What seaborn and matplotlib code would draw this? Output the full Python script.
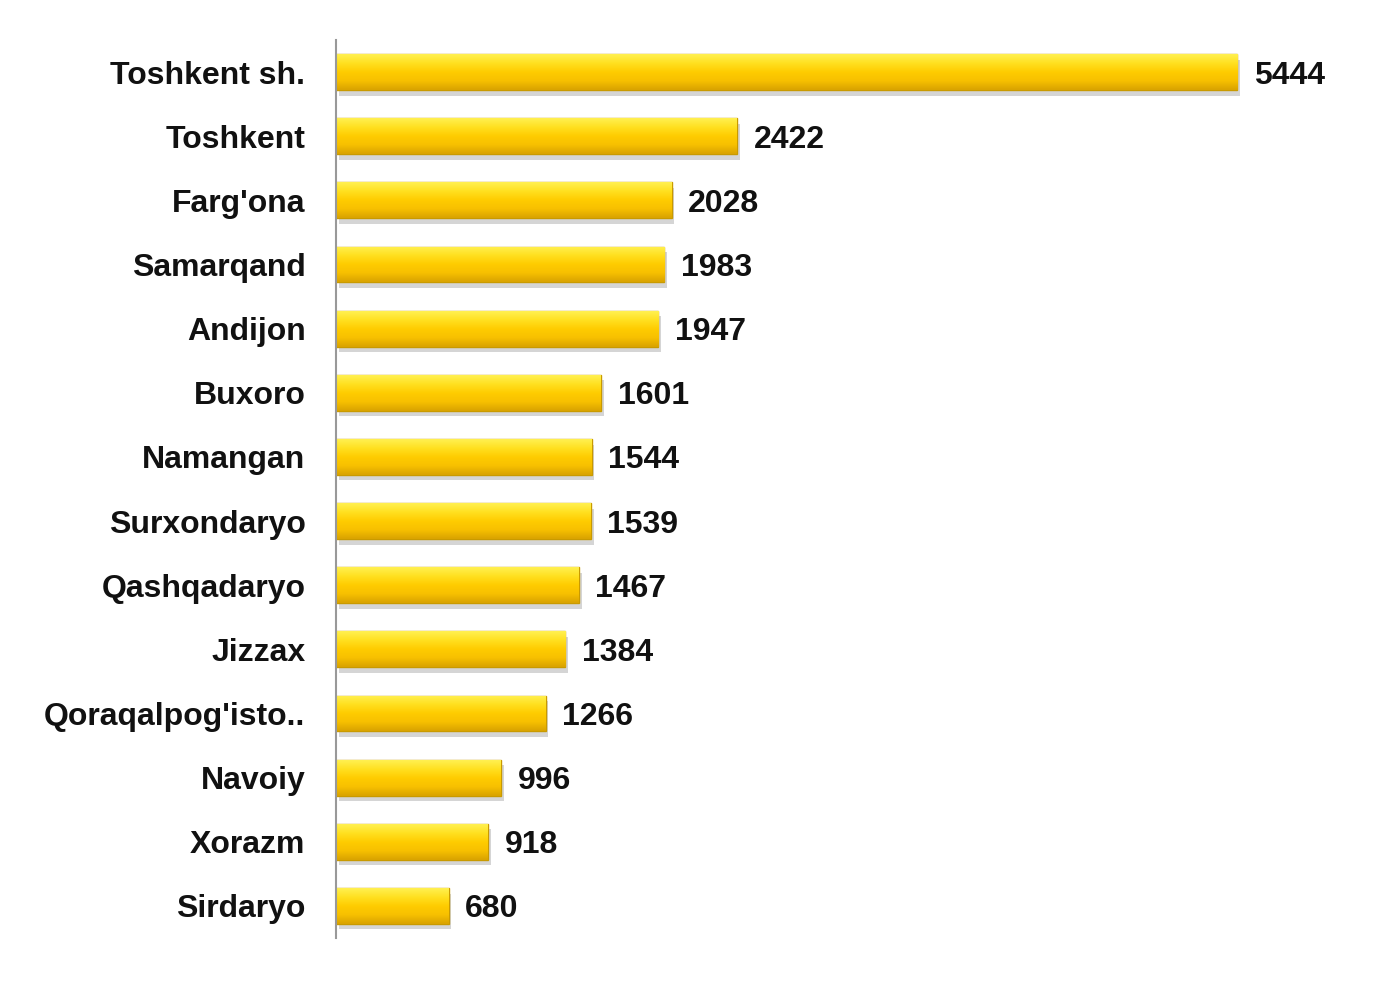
import numpy as np
import pandas as pd
import matplotlib
matplotlib.use("Agg")
import matplotlib.pyplot as plt
import matplotlib.patheffects as pe
from matplotlib.colors import LinearSegmentedColormap
import seaborn as sns

regions = ["Toshkent sh.", "Toshkent", "Farg'ona", "Samarqand", "Andijon", "Buxoro",
           "Namangan", "Surxondaryo", "Qashqadaryo", "Jizzax", "Qoraqalpog'isto..",
           "Navoiy", "Xorazm", "Sirdaryo"]
values = [5444, 2422, 2028, 1983, 1947, 1601, 1544, 1539, 1467, 1384, 1266, 996, 918, 680]

df = pd.DataFrame({"region": regions, "value": values})

sns.set_theme(style="white")
plt.rcParams['font.family'] = ['Liberation Sans', 'DejaVu Sans']

fig = plt.figure(figsize=(13.75, 10.07), dpi=100)
ax = fig.add_axes([0.2444, 0.0685, 0.7222, 0.8918])

sns.barplot(data=df, x="value", y="region", orient="h", color="#FFCC00",
            width=0.56, edgecolor="#C99A00", linewidth=1.0, ax=ax, saturation=1)

cmap = LinearSegmentedColormap.from_list("gold", ["#FFF050", "#FFE020", "#FFCC00", "#F7C000", "#D9A300"])
grad = np.linspace(0, 1, 64).reshape(-1, 1)
for p in ax.patches:
    x0, y0 = p.get_x(), p.get_y()
    w, h = p.get_width(), p.get_height()
    p.set_path_effects([pe.SimplePatchShadow(offset=(2, -4), shadow_rgbFace="#888888", alpha=0.35), pe.Normal()])
    im = ax.imshow(grad, extent=[x0, x0 + w, y0 + h, y0], aspect="auto", cmap=cmap,
                   zorder=p.get_zorder() + 0.1, interpolation="bicubic")
    im.set_clip_path(p)

for i, v in enumerate(values):
    ax.text(v + 100, i, f"{v}", va="center_baseline", ha="left", fontsize=23,
            fontweight="bold", color="#111111")

ax.set_xlim(0, 6000)
ax.set_ylim(13.5, -0.5)
ax.set_xlabel("")
ax.set_ylabel("")
ax.set_xticks([])
ax.tick_params(axis="y", length=0, pad=22, labelsize=23)
for lab in ax.get_yticklabels():
    lab.set_fontweight("bold")
    lab.set_color("#111111")
    lab.set_verticalalignment("center_baseline")
for s in ["top", "right", "bottom"]:
    ax.spines[s].set_visible(False)
ax.spines["left"].set_color("#999999")
ax.spines["left"].set_linewidth(1.5)

fig.savefig("out.png", dpi=100)
